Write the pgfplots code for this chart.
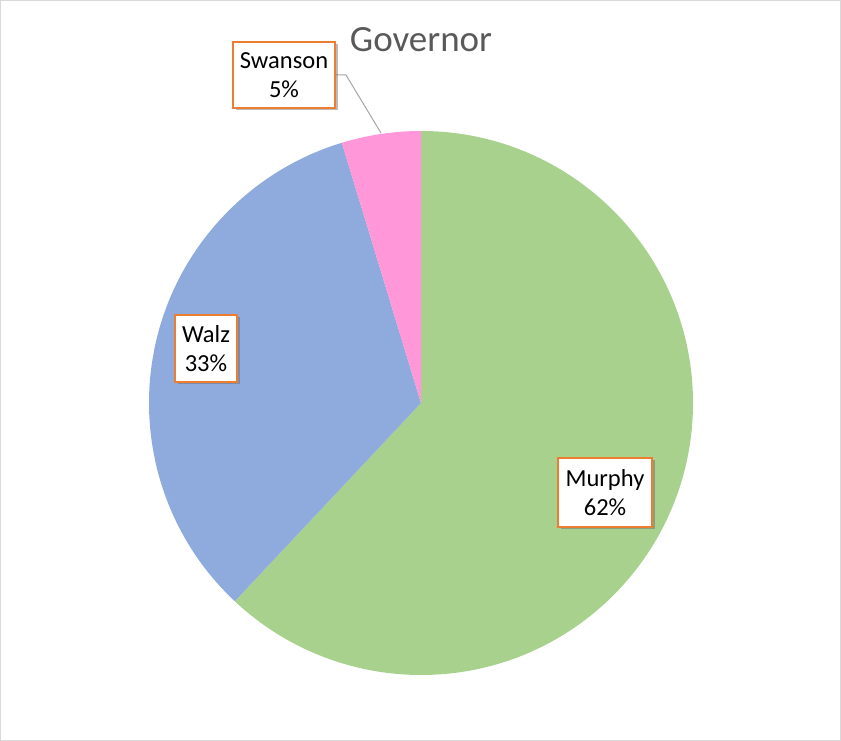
\documentclass[border=0pt]{standalone}
\usepackage{pgfplots}
\pgfplotsset{compat=1.18}
\usepackage{fontspec}
\setmainfont{Carlito}
\usetikzlibrary{shadows}
\definecolor{cMurphy}{HTML}{A9D18E}
\definecolor{cWalz}{HTML}{8FAADC}
\definecolor{cSwanson}{HTML}{FF97D8}
\definecolor{cBox}{HTML}{ED7D31}
\definecolor{cTitle}{HTML}{595959}
\definecolor{cFrame}{HTML}{D9D9D9}
% slice: #1 = cumulative percent before, #2 = percent, #3 = colour
\newcommand\slice[3]{%
  \fill[#3] (axis cs:421,338) -- ++({90-3.6*(#1)}:272pt)
    arc[start angle={90-3.6*(#1)}, end angle={90-3.6*(#1+#2)}, radius=272pt] -- cycle;}
\tikzset{lbl/.style={draw=cBox, line width=1.6pt, fill=white, align=center,
  font=\fontsize{24.5}{28.5}\selectfont, inner sep=0pt,
  drop shadow={shadow xshift=2.5pt, shadow yshift=-2.5pt, opacity=0.45, fill=black!60}}}
\begin{document}
\begin{tikzpicture}
\begin{axis}[
  scale only axis, width=841pt, height=741pt,
  xmin=0, xmax=841, ymin=0, ymax=741,
  hide axis, clip=false]
  \draw[cFrame, line width=1pt] (axis cs:0.5,0.5) rectangle (axis cs:840.5,740.5);
  % values: Murphy 62.0, Walz 33.3, Swanson 4.7
  \slice{0}{62.0}{cMurphy}
  \slice{62.0}{33.3}{cWalz}
  \slice{95.3}{4.7}{cSwanson}
  \node[anchor=base, text=cTitle, font=\fontsize{37}{44}\selectfont] at (axis cs:421,689) {Governor};
  \draw[black!35, line width=1pt] (axis cs:336,666) -- (axis cs:346,666) -- (axis cs:381,608);
  \node[lbl, minimum width=94pt, minimum height=69pt] at (axis cs:605,248.5) {Murphy\\62\%};
  \node[lbl, minimum width=62pt, minimum height=67pt] at (axis cs:206,392.5) {Walz\\33\%};
  \node[lbl, minimum width=102pt, minimum height=66pt] at (axis cs:284,666) {Swanson\\5\%};
\end{axis}
\end{tikzpicture}
\end{document}
